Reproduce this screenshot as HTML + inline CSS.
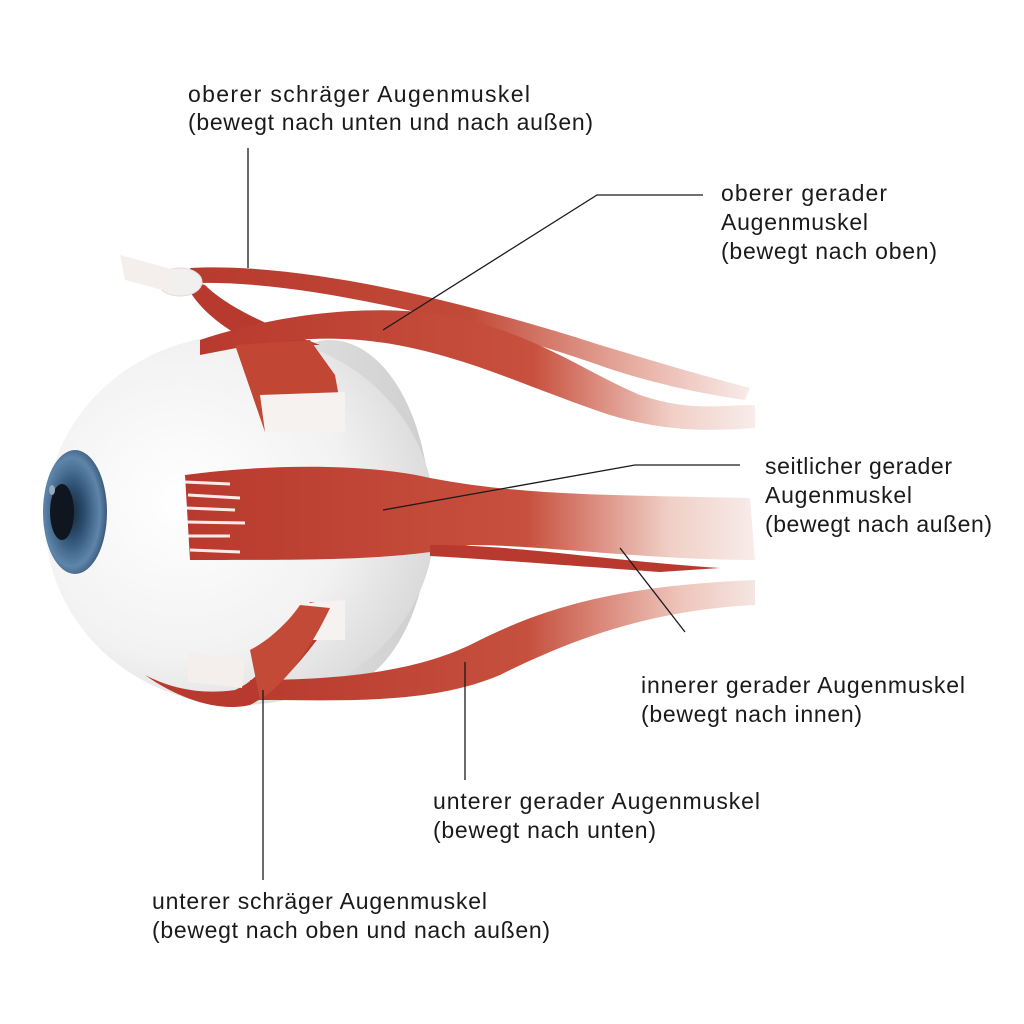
<!DOCTYPE html>
<html><head><meta charset="utf-8"><style>
html,body{margin:0;padding:0;background:#fff;}
svg{display:block}
text{font-family:"Liberation Sans",sans-serif;font-size:23px;fill:#1a1a1a;}
</style></head><body>
<svg width="1024" height="1024" viewBox="0 0 1024 1024" xmlns="http://www.w3.org/2000/svg">
<defs>
<radialGradient id="ball" cx="0.35" cy="0.45" r="0.7">
<stop offset="0" stop-color="#ffffff"/><stop offset="0.6" stop-color="#f2f2f2"/><stop offset="1" stop-color="#d6d6d6"/>
</radialGradient>
<linearGradient id="back" x1="0" x2="1"><stop offset="0" stop-color="#e6e6e6"/><stop offset="1" stop-color="#cfcfcf"/></linearGradient>
<radialGradient id="iris" cx="0.45" cy="0.5" r="0.55"><stop offset="0" stop-color="#1a2a3a"/><stop offset="0.35" stop-color="#2a4c6e"/><stop offset="0.8" stop-color="#5e86aa"/><stop offset="1" stop-color="#3b5878"/></radialGradient>
<linearGradient id="mr" x1="0" x2="1"><stop offset="0" stop-color="#b83a2e"/><stop offset="0.6" stop-color="#c8503e"/><stop offset="0.85" stop-color="#f0cfc6"/><stop offset="1" stop-color="#f8ecea"/></linearGradient>
<linearGradient id="mr2" x1="0" x2="1"><stop offset="0" stop-color="#b83a2e"/><stop offset="0.5" stop-color="#c24a38"/><stop offset="0.8" stop-color="#e8b0a4"/><stop offset="1" stop-color="#f8ecea"/></linearGradient>
<linearGradient id="mr3" x1="0" x2="1"><stop offset="0" stop-color="#b83a2e"/><stop offset="0.55" stop-color="#c6503e"/><stop offset="0.85" stop-color="#eec4ba"/><stop offset="1" stop-color="#f5e6e2"/></linearGradient>
</defs>

<ellipse cx="330" cy="515" rx="100" ry="175" fill="url(#back)"/>
<ellipse cx="240" cy="520" rx="195" ry="185" fill="url(#ball)"/>
<ellipse cx="75" cy="512" rx="32" ry="62" fill="url(#iris)"/>
<ellipse cx="62" cy="512" rx="12" ry="28" fill="#0f1620"/>
<ellipse cx="52" cy="490" rx="3" ry="5" fill="#9ab"/>

<path d="M190 268 C300 262 460 300 600 345 C650 360 700 375 750 388 L745 400 C690 392 640 380 590 362 C460 318 300 280 195 283 Z" fill="url(#mr2)"/>
<path d="M185 280 C190 300 220 330 260 345 L320 345 C280 330 230 310 205 285 Z" fill="#b83a2e"/>
<ellipse cx="180" cy="282" rx="22" ry="14" fill="#f2f0ee" stroke="#ddd"/>
<path d="M120 255 L175 270 L170 292 L125 280 Z" fill="#f4efec"/>
<path d="M200 340 C260 320 340 305 420 312 C520 322 580 370 640 395 C690 412 720 405 755 405 L755 428 C700 432 660 430 610 415 C520 385 450 348 360 340 C300 335 250 345 200 355 Z" fill="url(#mr)"/>
<path d="M235 345 L310 340 L335 375 L345 430 L265 432 Z" fill="#c24634"/>
<path d="M260 395 L345 392 L345 432 L265 432 Z" fill="#f6f2f0"/>
<path d="M185 475 C260 465 360 462 430 478 C520 495 600 495 750 498 L755 560 C650 560 540 545 470 545 C400 560 330 560 190 560 Z" fill="url(#mr)"/>
<path d="M430 545 C520 545 600 560 720 568 L660 572 C560 565 500 560 430 556 Z" fill="#b83a2e"/>
<g stroke="#fff" stroke-width="3" opacity="0.9">
<line x1="185" y1="482" x2="230" y2="484"/><line x1="188" y1="495" x2="240" y2="498"/><line x1="186" y1="508" x2="235" y2="510"/><line x1="186" y1="522" x2="245" y2="523"/><line x1="188" y1="536" x2="230" y2="536"/><line x1="190" y1="550" x2="240" y2="552"/>
</g>
<path d="M250 680 C340 680 420 672 480 640 C560 600 640 585 755 580 L755 605 C650 610 570 640 500 675 C430 705 340 700 255 700 Z" fill="url(#mr3)"/>
<path d="M145 675 C180 700 220 712 250 705 C280 690 320 640 340 605 L310 602 C290 640 260 680 235 690 C200 695 170 688 145 675 Z" fill="#b83a2e"/>
<path d="M285 605 L345 600 L345 640 L295 640 Z" fill="#f6f2f0"/>
<path d="M188 652 L245 660 L242 688 L188 682 Z" fill="#f4efec"/>
<path d="M250 650 C270 640 290 620 300 605 L330 608 C315 640 290 680 260 700 Z" fill="#c44a38"/>

<g stroke="#1a1a1a" stroke-width="1.3" fill="none">
<line x1="248" y1="148" x2="248" y2="268"/>
<polyline points="703,195 597,195 383,330"/>
<polyline points="740,465 635,465 383,510"/>
<line x1="685" y1="632" x2="620" y2="548"/>
<line x1="465" y1="662" x2="465" y2="780"/>
<line x1="263" y1="690" x2="263" y2="880"/>
</g>

<g lengthAdjust="spacing">
<text x="188" y="102" textLength="342">oberer schräger Augenmuskel</text>
<text x="188" y="130" textLength="405">(bewegt nach unten und nach außen)</text>
<text x="721" y="201" textLength="166">oberer gerader</text>
<text x="721" y="230" textLength="147">Augenmuskel</text>
<text x="721" y="259" textLength="216">(bewegt nach oben)</text>
<text x="765" y="474" textLength="187">seitlicher gerader</text>
<text x="765" y="503" textLength="147">Augenmuskel</text>
<text x="765" y="532" textLength="227">(bewegt nach außen)</text>
<text x="641" y="693" textLength="324">innerer gerader Augenmuskel</text>
<text x="641" y="722" textLength="221">(bewegt nach innen)</text>
<text x="433" y="809" textLength="327">unterer gerader Augenmuskel</text>
<text x="433" y="838" textLength="223">(bewegt nach unten)</text>
<text x="152" y="909" textLength="335">unterer schräger Augenmuskel</text>
<text x="152" y="938" textLength="398">(bewegt nach oben und nach außen)</text>
</g>
</svg>
</body></html>
